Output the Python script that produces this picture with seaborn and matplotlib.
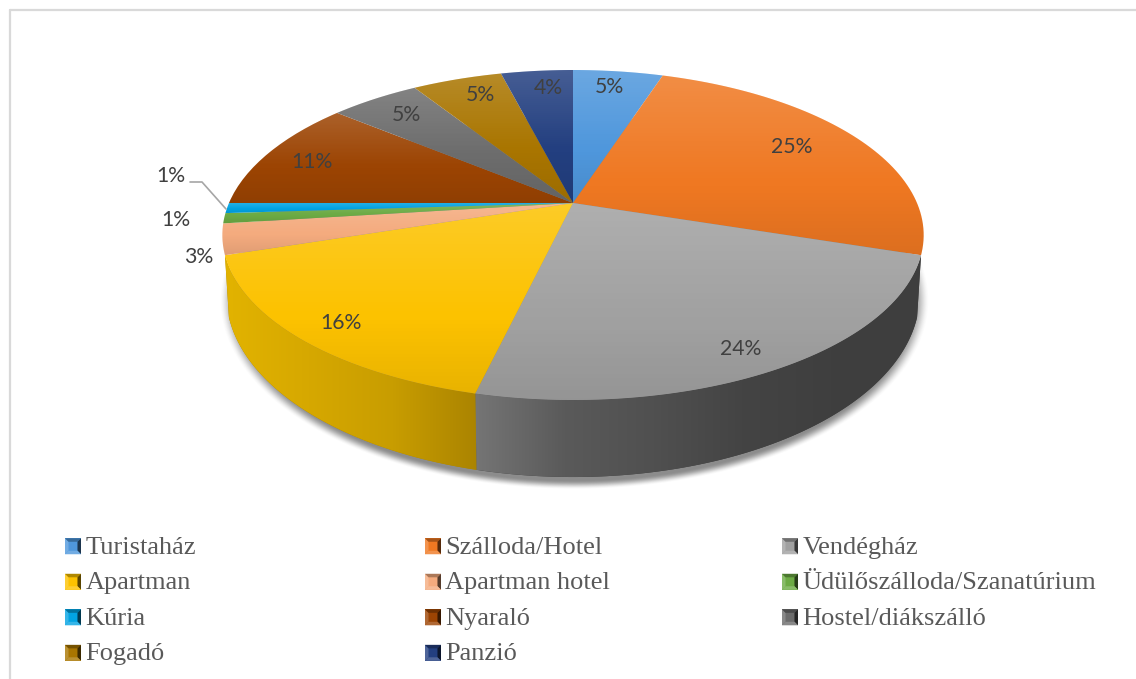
import numpy as np
import matplotlib
matplotlib.use('Agg')
import matplotlib.pyplot as plt
import seaborn as sns
from matplotlib.colors import to_rgb
from matplotlib.legend_handler import HandlerBase
from matplotlib.lines import Line2D
from matplotlib.patches import Patch, Polygon
from matplotlib.path import Path
from matplotlib.transforms import Affine2D, Transform

# slices, clockwise from the top
labels = ['Turistaház', 'Szálloda/Hotel', 'Vendégház', 'Apartman', 'Apartman hotel',
          'Üdülőszálloda/Szanatúrium', 'Kúria', 'Nyaraló', 'Hostel/diákszálló', 'Fogadó', 'Panzió']
values = [5, 25, 23.7, 16.3, 3, 1, 1, 11, 5, 5, 4]
colors = ['#4f97dc', '#ef7822', '#a0a0a0', '#fcc200', '#f4ab7e', '#6cab44',
          '#02a3e2', '#9c4403', '#6c6c6c', '#a97500', '#233f80']

# side wall shades, left to right
wall_shades = {'Vendégház': ['#757575', '#5a5a5a', '#505050', '#444444', '#3f3f3f', '#3e3e3e'],
               'Apartman': ['#e2b300', '#d6a800', '#c89d00', '#ab8400']}

W, H = 1136, 679
CX, CY = 573, 203       # where the pie centre lands
C = 0.194               # perspective strength
KX, KY = 344, 158.8


class Perspective(Transform):
    # tilts the flat unit pie into picture coordinates
    input_dims = output_dims = 2
    is_separable = False
    has_inverse = False

    def transform_non_affine(self, xy):
        xy = np.asarray(xy, dtype=float)
        d = 1 + C * xy[:, 1]
        return np.column_stack([CX + KX * xy[:, 0] / d, CY - KY * xy[:, 1] / d])

    def transform_path_non_affine(self, path):
        big = path.transformed(Affine2D().scale(800))
        poly = big.to_polygons(closed_only=False)[0] / 800
        return Path(self.transform_non_affine(poly))


persp = Perspective()


def lower_rim(pts):
    # same rim, on the bottom face of the disc
    return np.column_stack([CX + (pts[:, 0] - CX) * 347 / 351, 295 + (pts[:, 1] - 235) * 182 / 165])


class BevelHandler(HandlerBase):
    def create_artists(self, legend, orig_handle, xd, yd, width, height, fontsize, trans):
        base = np.array(to_rgb(orig_handle.get_facecolor()))
        s, b = width, width * 0.22
        x0, y0 = -xd, -yd - 1
        light = base + (1 - base) * 0.2
        faces = [
            (base, [(x0, y0), (x0 + s, y0), (x0 + s, y0 + s), (x0, y0 + s)]),
            (light, [(x0, y0), (x0 + b, y0 + b), (x0 + b, y0 + s - b), (x0, y0 + s)]),
            (base * 0.7, [(x0, y0 + s), (x0 + b, y0 + s - b), (x0 + s - b, y0 + s - b), (x0 + s, y0 + s)]),
            (base * 0.35, [(x0 + s, y0), (x0 + s - b, y0 + b), (x0 + s - b, y0 + s - b), (x0 + s, y0 + s)]),
            (light, [(x0, y0), (x0 + b, y0 + b), (x0 + s - b, y0 + b), (x0 + s, y0)]),
        ]
        return [Polygon(p, closed=True, facecolor=c, edgecolor='none', transform=trans) for c, p in faces]


sns.set_theme(style='white')
fig = plt.figure(figsize=(W / 100, H / 100), dpi=100)
ax = fig.add_axes([0, 0, 1, 1])

wedges, _, pct = ax.pie(values, colors=colors, startangle=90, counterclock=False,
                        autopct='%.0f%%', wedgeprops={'linewidth': 0, 'zorder': 2})
tr = persp + ax.transData
for w in wedges:
    w.set_transform(tr)

# soft shadow under the disc
yy, xx = np.mgrid[0:H, 0:W]
dist = np.sqrt(((xx - 574) / 355) ** 2 + ((yy - 300) / 189) ** 2)
fade = np.clip((1 - dist) / 0.05, 0, 1)
shadow = np.zeros((H, W, 4))
shadow[..., :3] = 0.25
shadow[..., 3] = 0.6 * fade * fade * (3 - 2 * fade)
ax.imshow(shadow, extent=(0, W, H, 0), aspect='auto', zorder=0.1)

# side wall of the front slices
for w, name in zip(wedges, labels):
    if name not in wall_shades:
        continue
    th = np.radians(np.linspace(w.theta1, w.theta2, 120))
    rim = persp.transform_non_affine(np.column_stack([np.cos(th), np.sin(th)]))
    wall = np.vstack([rim, lower_rim(rim)[::-1]])
    face = Polygon(wall, closed=True, facecolor=wall_shades[name][-1], edgecolor='none', zorder=0.5)
    ax.add_patch(face)
    x0, x1 = wall[:, 0].min(), wall[:, 0].max()
    cmap = sns.blend_palette(wall_shades[name], as_cmap=True)
    grad = np.linspace(0, 1, 256).reshape(1, -1)
    im = ax.imshow(grad, cmap=cmap, extent=(x0, x1, 490, 200), aspect='auto', zorder=0.6)
    im.set_clip_path(face)

# top face shading, each slice lighter at its upper end
for w in wedges:
    pts = persp.transform_non_affine(w.get_path().vertices)
    y0, y1 = pts[:, 1].min(), pts[:, 1].max()
    t = np.linspace(0, 1, 128)
    shade = np.zeros((128, 1, 4))
    shade[:, 0, :3] = (t < 0.6).reshape(-1, 1) * 1.0
    shade[:, 0, 3] = np.where(t < 0.6, 0.16 * (0.6 - t) / 0.6, 0.08 * (t - 0.6) / 0.4)
    im = ax.imshow(shade, extent=(CX - 360, CX + 360, y1, y0), aspect='auto', zorder=2.5)
    im.set_clip_path(w)

# percent labels
label_xy = [(609, 87), (792, 147), (741, 349), (341, 323), (199, 257), (176, 220),
            (171, 176), (312, 162), (406, 115), (480, 95), (548, 88)]
for t, xy in zip(pct, label_xy):
    t.set_position(xy)
    t.set(fontfamily='Lato', fontsize=15.3, color='#404040', ha='center', va='center', zorder=5)

# leader line of the Kúria label
ax.add_line(Line2D([190, 202, 226], [182, 182, 209], color='#a6a6a6', lw=1.2, zorder=4))

ax.set_aspect('auto')
ax.set_xlim(0, W)
ax.set_ylim(H, 0)
ax.axis('off')

# chart frame, top and left only
fig.add_artist(Line2D([10 / W, 1], [1 - 10 / H, 1 - 10 / H], color='#d9d9d9', lw=1.6))
fig.add_artist(Line2D([10 / W, 10 / W], [0, 1 - 10 / H], color='#d9d9d9', lw=1.6))

# legend, filled by rows over three fixed columns
handles = [Patch(facecolor=c, label=l) for c, l in zip(colors, labels)]
for col, x in enumerate([65, 425, 782]):
    fig.legend(handles=handles[col::3], loc='upper left', bbox_to_anchor=(x / W, 1 - 536 / H),
               frameon=False, borderpad=0, borderaxespad=0, handlelength=0.606, handleheight=0.606,
               handletextpad=0.17, labelspacing=0.485,
               prop={'family': 'Liberation Serif', 'size': 19},
               labelcolor='#595959', handler_map={Patch: BevelHandler()})

plt.savefig('out.png', dpi=100)
